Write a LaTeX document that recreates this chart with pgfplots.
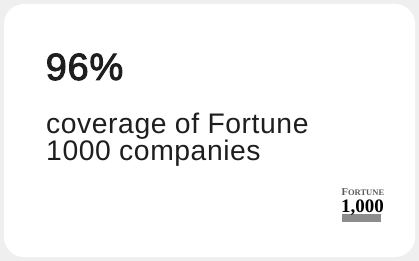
\documentclass[border=0pt]{standalone}
\usepackage{pgfplots}
\pgfplotsset{compat=1.18}
\usepackage{fontspec}
\setmainfont{Liberation Sans}
\newfontfamily\medfont[FakeBold=2.5,LetterSpace=2]{Liberation Sans}
\newfontfamily\seriffont{Liberation Serif}
\definecolor{bg}{HTML}{EFEFEF}
\definecolor{ink}{HTML}{1E1E1E}
\definecolor{logogray}{HTML}{5A5A5A}
\definecolor{bargray}{HTML}{8C8C8C}
\begin{document}
\begin{tikzpicture}[x=1pt,y=1pt]
\begin{axis}[
  at={(0,0)}, anchor=south west,
  width=419pt, height=261pt, scale only axis,
  xmin=0, xmax=419, ymin=0, ymax=261, y dir=reverse,
  hide axis, clip=false,
]
\fill[bg] (axis cs:0,0) rectangle (axis cs:419,261);
\fill[white, rounded corners=20pt] (axis cs:4,4) rectangle (axis cs:415,257);
% logo bar
\addplot[fill=bargray, draw=none] coordinates {(342,214) (381,214) (381,222) (342,222)} -- cycle;
\node[anchor=base west, inner sep=0, text=ink, font=\medfont\fontsize{38}{40}\selectfont] at (axis cs:45.5,80) {96\%};
\node[anchor=base west, inner sep=0, text=ink, font=\fontsize{28.3}{30}\selectfont\addfontfeatures{LetterSpace=2}] at (axis cs:46,134) {coverage of Fortune};
\node[anchor=base west, inner sep=0, text=ink, font=\fontsize{28.3}{30}\selectfont\addfontfeatures{LetterSpace=2}] at (axis cs:46,161) {1000 companies};
\node[anchor=base west, inner sep=0, text=logogray, font=\seriffont\bfseries\fontsize{10.5}{10}\selectfont] at (axis cs:341.5,196) {F\fontsize{8.5}{8}\selectfont ORTUNE};
\node[anchor=base west, inner sep=0, text=black, font=\seriffont\bfseries\fontsize{19}{19}\selectfont] at (axis cs:341,212) {1,000};
\end{axis}
\end{tikzpicture}
\end{document}
